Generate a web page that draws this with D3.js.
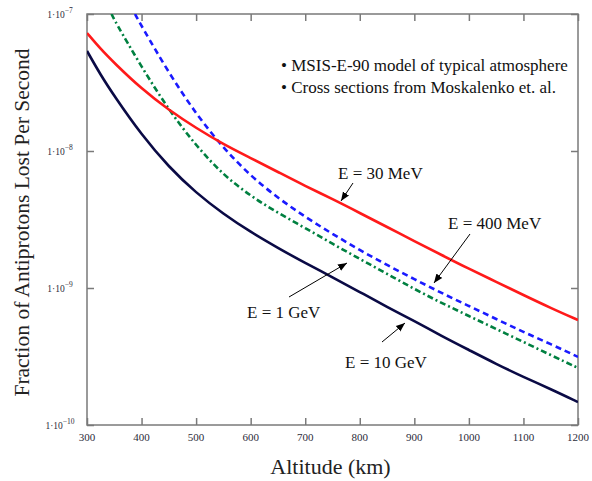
<!DOCTYPE html>
<html>
<head>
<meta charset="utf-8">
<script src="https://cdn.jsdelivr.net/npm/d3@7"></script>
<style>
  html, body { margin: 0; padding: 0; background: #fff; }
  svg { display: block; font-family: "Liberation Serif", "Times New Roman", serif; }
</style>
</head>
<body>
<svg id="chart" width="592" height="481"></svg>
<script>
// Altitude grid (km) for the 30 MeV and 10 GeV curves
const altitudes = [300, 325, 350, 400, 450, 500, 550, 600, 650, 700, 750, 800, 850, 900, 950, 1000, 1050, 1100, 1150, 1200];

// E = 30 MeV
const loss30MeV = [7.27e-8, 5.55e-8, 4.39e-8, 2.84e-8, 1.99e-8, 1.47e-8, 1.12e-8, 8.89e-9, 7.03e-9, 5.55e-9,
                   4.46e-9, 3.53e-9, 2.79e-9, 2.20e-9, 1.74e-9, 1.38e-9, 1.11e-9, 8.89e-10, 7.15e-10, 5.84e-10];

// E = 10 GeV
const loss10GeV = [5.37e-8, 3.59e-8, 2.52e-8, 1.31e-8, 7.64e-9, 4.94e-9, 3.47e-9, 2.56e-9, 1.96e-9, 1.52e-9,
                   1.20e-9, 9.35e-10, 7.27e-10, 5.74e-10, 4.46e-10, 3.53e-10, 2.79e-10, 2.24e-10, 1.83e-10, 1.47e-10];

// E = 400 MeV (enters the plotted range near 388 km)
const altitudes400MeV = [388, 400, 450, 500, 550, 600, 650, 700, 750, 800, 850, 900, 950, 1000, 1050, 1100, 1150, 1200];
const loss400MeV = [1.00e-7, 8.17e-8, 3.71e-8, 1.86e-8, 1.05e-8, 6.57e-9, 4.54e-9, 3.30e-9, 2.48e-9, 1.89e-9,
                    1.47e-9, 1.16e-9, 9.19e-10, 7.39e-10, 5.94e-10, 4.77e-10, 3.90e-10, 3.14e-10];

// E = 1 GeV (enters the plotted range near 345 km)
const altitudes1GeV = [345, 350, 400, 450, 500, 550, 600, 650, 700, 750, 800, 850, 900, 950, 1000, 1050, 1100, 1150, 1200];
const loss1GeV = [1.00e-7, 9.04e-8, 4.10e-8, 1.99e-8, 1.09e-8, 6.68e-9, 4.69e-9, 3.53e-9, 2.74e-9, 2.10e-9,
                  1.63e-9, 1.27e-9, 9.83e-10, 7.77e-10, 6.25e-10, 5.02e-10, 4.04e-10, 3.24e-10, 2.61e-10];

// Axis ticks
const xTicks = [300, 400, 500, 600, 700, 800, 900, 1000, 1100, 1200];
const yTickExponents = [-7, -8, -9, -10];

const notes = ["MSIS-E-90 model of typical atmosphere", "Cross sections from Moskalenko et. al."];

const svg = d3.select("#chart");
const plot = { left: 87, right: 578, top: 14, bottom: 425 };

const x = d3.scaleLinear().domain([300, 1200]).range([plot.left, plot.right]);
const y = d3.scaleLog().domain([1e-10, 1e-7]).range([plot.bottom, plot.top]);

const frameColor = "#7a7a7a";
const tickColor = "#2b2b3a";

// Clip region so curves entering from above stop at the frame
svg.append("clipPath").attr("id", "plot-clip")
  .append("rect")
  .attr("x", plot.left).attr("y", plot.top)
  .attr("width", plot.right - plot.left).attr("height", plot.bottom - plot.top);

// Ticks on all four sides, pointing inward
const yDecades = yTickExponents.map(e => Math.pow(10, e));
const tickLen = 7;

const axisB = svg.append("g").attr("transform", `translate(0,${plot.bottom})`)
  .call(d3.axisBottom(x).tickValues(xTicks).tickSize(-tickLen).tickFormat(""));
const axisT = svg.append("g").attr("transform", `translate(0,${plot.top})`)
  .call(d3.axisTop(x).tickValues(xTicks).tickSize(-tickLen).tickFormat(""));
const axisL = svg.append("g").attr("transform", `translate(${plot.left},0)`)
  .call(d3.axisLeft(y).tickValues(yDecades).tickSize(-tickLen).tickFormat(""));
const axisR = svg.append("g").attr("transform", `translate(${plot.right},0)`)
  .call(d3.axisRight(y).tickValues(yDecades).tickSize(-tickLen).tickFormat(""));

[axisB, axisT, axisL, axisR].forEach(g => {
  g.select(".domain").remove();
  g.selectAll(".tick line").attr("stroke", frameColor).attr("stroke-width", 1.5);
});

// Frame
svg.append("rect")
  .attr("x", plot.left).attr("y", plot.top)
  .attr("width", plot.right - plot.left).attr("height", plot.bottom - plot.top)
  .attr("fill", "none").attr("stroke", frameColor).attr("stroke-width", 1.5);

// X tick labels
svg.append("g").selectAll("text").data(xTicks).join("text")
  .attr("x", d => x(d)).attr("y", plot.bottom + 16)
  .attr("text-anchor", "middle")
  .attr("font-size", 11).attr("fill", tickColor)
  .text(d => d);

// Y tick labels in the form 1·10^n
const yLab = svg.append("g").selectAll("text").data(yTickExponents).join("text")
  .attr("x", 60).attr("y", d => y(Math.pow(10, d)) + 4)
  .attr("text-anchor", "middle")
  .attr("font-size", 9.5).attr("fill", tickColor);
yLab.append("tspan").text("1·10");
yLab.append("tspan").attr("dy", -5).attr("font-size", 7.5).text(d => "−" + Math.abs(d));

// Axis titles
svg.append("text")
  .attr("x", (plot.left + plot.right) / 2 - 2).attr("y", 474)
  .attr("text-anchor", "middle").attr("font-size", 22).attr("fill", "#222")
  .text("Altitude (km)");

svg.append("text")
  .attr("transform", `translate(29,${(plot.top + plot.bottom) / 2 + 3}) rotate(-90)`)
  .attr("text-anchor", "middle").attr("font-size", 21.5).attr("fill", "#222")
  .text("Fraction of Antiprotons Lost Per Second");

// Curves
const line = d3.line()
  .x(d => x(d[0]))
  .y(d => y(d[1]))
  .curve(d3.curveBasis);

const series = [
  { alt: altitudes, val: loss10GeV, color: "#0a0a45", dash: null },
  { alt: altitudes1GeV, val: loss1GeV, color: "#008040", dash: "6,3,2,3" },
  { alt: altitudes400MeV, val: loss400MeV, color: "#1a1aff", dash: "6,4" },
  { alt: altitudes, val: loss30MeV, color: "#ff1a1a", dash: null }
];

const curves = svg.append("g").attr("clip-path", "url(#plot-clip)");
series.forEach(s => {
  curves.append("path")
    .datum(s.alt.map((a, i) => [a, s.val[i]]))
    .attr("d", line)
    .attr("fill", "none")
    .attr("stroke", s.color)
    .attr("stroke-width", 2.6)
    .attr("stroke-dasharray", s.dash);
});

// Notes in the upper right
svg.append("g").selectAll("text").data(notes).join("text")
  .attr("x", 281).attr("y", (d, i) => 71 + i * 22)
  .attr("font-size", 17).attr("fill", "#111")
  .text(d => "• " + d);

// Energy labels with arrows
svg.append("defs").append("marker")
  .attr("id", "arrowhead")
  .attr("viewBox", "0 0 10 10").attr("refX", 10).attr("refY", 5)
  .attr("markerWidth", 9).attr("markerHeight", 9)
  .attr("markerUnits", "userSpaceOnUse")
  .attr("orient", "auto")
  .append("path").attr("d", "M0,1 L10,5 L0,9 Z").attr("fill", "#000");

const labels = [
  { text: "E = 30 MeV", tx: 338, ty: 179, from: [353, 183], to: [341, 201] },
  { text: "E = 400 MeV", tx: 448, ty: 229, from: [470, 234], to: [434, 283] },
  { text: "E = 1 GeV", tx: 247, ty: 318, from: [289, 297], to: [347, 263] },
  { text: "E = 10 GeV", tx: 345, ty: 368, from: [382, 342], to: [405, 323] }
];

labels.forEach(l => {
  svg.append("text")
    .attr("x", l.tx).attr("y", l.ty)
    .attr("font-size", 17).attr("fill", "#111")
    .text(l.text);
  svg.append("line")
    .attr("x1", l.from[0]).attr("y1", l.from[1])
    .attr("x2", l.to[0]).attr("y2", l.to[1])
    .attr("stroke", "#000").attr("stroke-width", 1)
    .attr("marker-end", "url(#arrowhead)");
});
</script>
</body>
</html>
